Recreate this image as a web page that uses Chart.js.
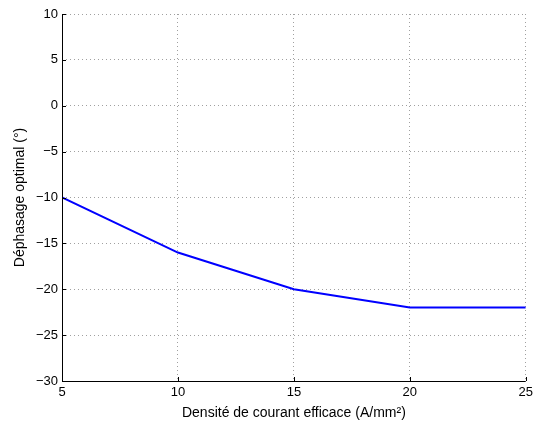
<!DOCTYPE html>
<html lang="fr">
<head>
    <meta charset="UTF-8">
    <title>dephasage</title>
    <script src="https://cdn.jsdelivr.net/npm/chart.js@4.4.0/dist/chart.umd.min.js"></script>
    <style>
        *{margin:0; padding:0;}
        body{background:#fff;}
        #wrap{width:537px; height:428px; position:relative;}
    </style>
</head>
<body>
    <div id="wrap">
        <canvas id="lineChart" width="537" height="428"></canvas>
    </div>

    <script>
        // densite de courant (A/mm2) et dephasage optimal (deg)
        const densite = [5, 10, 15, 20, 25]
        const dephasage = [-10, -16, -20, -22, -22]
        const xTicks = [5, 10, 15, 20, 25]
        const yTicks = [-30, -25, -20, -15, -10, -5, 0, 5, 10]

        const font = {family:'"Liberation Sans", Arial, sans-serif', size:13}
        const titleFont = {family:'"Liberation Sans", Arial, sans-serif', size:14}

        // petits traits de graduation vers l'interieur + axes pleins, facon matlab
        const innerTicks = {
            id:'innerTicks',
            afterDraw:function(chart){
                const ctx = chart.ctx
                const x = chart.scales.x, y = chart.scales.y
                const a = chart.chartArea
                ctx.save()
                ctx.strokeStyle = '#000'
                ctx.lineWidth = 1
                ctx.beginPath()
                xTicks.forEach(function(v){
                    const px = Math.round(x.getPixelForValue(v)) + 0.5
                    ctx.moveTo(px, a.bottom); ctx.lineTo(px, a.bottom - 4)
                })
                yTicks.forEach(function(v){
                    const py = Math.round(y.getPixelForValue(v)) + 0.5
                    ctx.moveTo(a.left, py); ctx.lineTo(a.left + 4, py)
                })
                // axe gauche et axe bas
                ctx.moveTo(Math.round(a.left) + 0.5, a.top)
                ctx.lineTo(Math.round(a.left) + 0.5, Math.round(a.bottom) + 0.5)
                ctx.lineTo(a.right, Math.round(a.bottom) + 0.5)
                ctx.stroke()
                ctx.restore()
            }
        }

        const config = {
            type:'line',
            data:{
                datasets:[{
                    data:densite.map(function(d, i){ return {x:d, y:dephasage[i]} }),
                    borderColor:'#0000ff',
                    borderWidth:2,
                    pointRadius:0,
                    tension:0,
                    fill:false
                }]
            },
            options:{
                responsive:false,
                animation:false,
                layout:{padding:{top:14, right:8, left:0, bottom:0}},
                plugins:{legend:{display:false}, tooltip:{enabled:false}},
                scales:{
                    x:{
                        type:'linear',
                        min:5, max:25,
                        afterBuildTicks:function(s){ s.ticks = xTicks.map(function(v){ return {value:v} }) },
                        afterFit:function(s){ s.height = 47 },
                        grid:{color:'#a0a0a0', drawTicks:false, lineWidth:1},
                        border:{display:false, dash:[1,3]},
                        ticks:{color:'#000', font:font, padding:4, maxRotation:0},
                        title:{display:true, text:'Densité de courant efficace (A/mm²)', color:'#000', font:titleFont, padding:{top:1, bottom:6}}
                    },
                    y:{
                        min:-30, max:10,
                        afterBuildTicks:function(s){ s.ticks = yTicks.map(function(v){ return {value:v} }) },
                        afterFit:function(s){ s.width = 62 },
                        grid:{color:'#a0a0a0', drawTicks:false, lineWidth:1},
                        border:{display:false, dash:[1,3]},
                        ticks:{color:'#000', font:font, padding:4,
                            callback:function(v){ return v < 0 ? '\u2212' + Math.abs(v) : v }},
                        title:{display:true, text:'Déphasage optimal (°)', color:'#000', font:titleFont, padding:{top:12, bottom:0}}
                    }
                }
            },
            plugins:[innerTicks]
        }

        const ctx = document.querySelector('#lineChart').getContext('2d')
        new Chart(ctx, config)
    </script>
</body>
</html>
